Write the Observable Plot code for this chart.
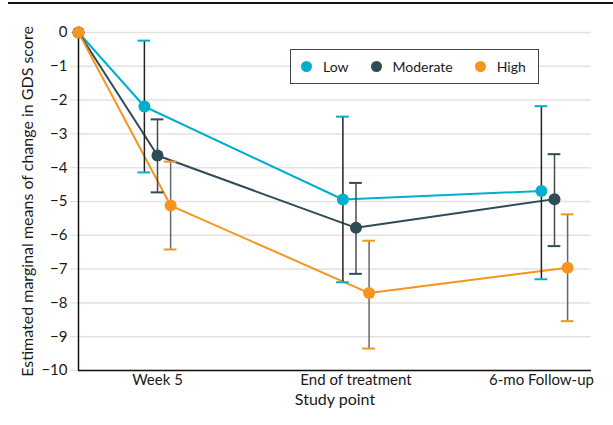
<!DOCTYPE html>
<html>
<head>
<meta charset="utf-8">
<script src="https://cdn.jsdelivr.net/npm/d3@7"></script>
<script src="https://cdn.jsdelivr.net/npm/@observablehq/plot@0.6"></script>
<style>
  body { margin: 0; background: #fff; font-family: Lato, "Noto Sans", sans-serif; }
  #wrap { position: relative; width: 613px; height: 425px; overflow: hidden; }
  #topline { position: absolute; left: 8px; right: 0; top: 2px; height: 2px; background: #111; }
  #chart { position: absolute; left: 0; top: 0; }
  #legend { position: absolute; left: 290px; top: 49px; width: 249px; height: 35px; box-sizing: border-box;
            border: 1px solid #444; background: #fff; display: flex; align-items: center;
            padding-left: 10px; font-size: 14px; color: #1a1a1a; }
  .item { display: flex; align-items: center; margin-right: 22px; }
  .sw { width: 11px; height: 11px; border-radius: 50%; margin-right: 11px; }
</style>
</head>
<body>
<div id="wrap">
  <div id="chart"></div>
  <div id="topline"></div>
  <div id="legend"></div>
</div>
<script>
// ---- data ----
const seriesNames = ["Low", "Moderate", "High"];
const seriesColors = ["#00AECF", "#2F4B55", "#F7941D"];
const stemColors = ["#222222", "#4a4a4a", "#666666"];
const timepointLabels = ["Baseline", "Week 5", "End of treatment", "6-mo Follow-up"];
const timepointIndex = [0, 1, 2, 3];

const lowMean  = [0, -2.19, -4.94, -4.69];
const lowLower = [null, -4.14, -7.39, -7.30];
const lowUpper = [null, -0.24, -2.49, -2.18];

const modMean  = [0, -3.64, -5.78, -4.93];
const modLower = [null, -4.73, -7.14, -6.32];
const modUpper = [null, -2.57, -4.45, -3.60];

const highMean  = [0, -5.12, -7.71, -6.96];
const highLower = [null, -6.42, -9.35, -8.54];
const highUpper = [null, -3.82, -6.16, -5.38];

const yTicks = [0, -1, -2, -3, -4, -5, -6, -7, -8, -9, -10];
const xAxisLabel = "Study point";
const yAxisLabel = "Estimated marginal means of change in GDS score";

// ---- build ----
const means = [lowMean, modMean, highMean];
const lowers = [lowLower, modLower, highLower];
const uppers = [lowUpper, modUpper, highUpper];
const dodge = 0.066;
const capHalf = 0.032;
const FS = 15;
const TS = 16;
const INK = "#1a1a1a";

const rowsBySeries = seriesNames.map((s, k) => timepointIndex.map((t, i) => ({
  series: s,
  x: i === 0 ? t : t + (k - 1) * dodge,
  y: means[k][i],
  lo: lowers[k][i],
  hi: uppers[k][i]
})));

const marks = [
  Plot.gridY(yTicks, {stroke: "#e2e2e2", strokeOpacity: 1, strokeWidth: 1.5}),
  Plot.axisY({ticks: yTicks, tickSize: 8, tickPadding: 3, stroke: "#dddddd", strokeOpacity: 1, fill: INK, fontSize: FS, label: null}),
  Plot.ruleX([0], {stroke: "#111", strokeWidth: 1.5}),
  Plot.ruleY([-10], {stroke: "#111", strokeWidth: 1.5}),
  Plot.text([yAxisLabel], {text: d => d, frameAnchor: "left", textAnchor: "middle", rotate: -90, dx: -51, fill: INK, fontSize: TS}),
  Plot.text([xAxisLabel], {text: d => d, frameAnchor: "bottom", dy: 34, fill: INK, fontSize: TS}),
  Plot.text(timepointIndex.slice(1, 3), {x: d => d, text: d => timepointLabels[d], frameAnchor: "bottom", lineAnchor: "top", dy: 4, fill: INK, fontSize: FS}),
  Plot.text(timepointIndex.slice(3), {x: d => d, text: d => timepointLabels[d], frameAnchor: "bottom", lineAnchor: "top", dy: 4, dx: -13, fill: INK, fontSize: FS})
];

rowsBySeries.forEach((rows, k) => {
  marks.push(Plot.line(rows, {x: "x", y: "y", stroke: seriesColors[k], strokeWidth: 2}));
});
rowsBySeries.forEach((rows, k) => {
  const bars = rows.filter(d => d.lo != null);
  marks.push(Plot.ruleX(bars, {x: "x", y1: "lo", y2: "hi", stroke: stemColors[k], strokeWidth: 1.5}));
  marks.push(Plot.ruleY(bars, {y: "lo", x1: d => d.x - capHalf, x2: d => d.x + capHalf, stroke: seriesColors[k], strokeWidth: 2}));
  marks.push(Plot.ruleY(bars, {y: "hi", x1: d => d.x - capHalf, x2: d => d.x + capHalf, stroke: seriesColors[k], strokeWidth: 2}));
});
rowsBySeries.forEach((rows, k) => {
  marks.push(Plot.dot(rows, {x: "x", y: "y", r: 6, fill: seriesColors[k], stroke: "none"}));
});

const chart = Plot.plot({
  width: 613,
  height: 425,
  marginTop: 32,
  marginBottom: 55,
  marginLeft: 78,
  marginRight: 22,
  style: {fontFamily: "Lato, 'Noto Sans', sans-serif", fontSize: FS + "px", background: "transparent", color: INK},
  x: {type: "linear", domain: [0, 0.9, 3], range: [78, 137.15, 554], axis: null},
  y: {domain: [-10, 0], axis: null},
  marks
});
document.getElementById("chart").appendChild(chart);

// legend
const legend = d3.select("#legend");
seriesNames.forEach((s, k) => {
  const it = legend.append("div").attr("class", "item");
  it.append("div").attr("class", "sw").style("background", seriesColors[k]);
  it.append("span").text(s);
});
</script>
</body>
</html>
